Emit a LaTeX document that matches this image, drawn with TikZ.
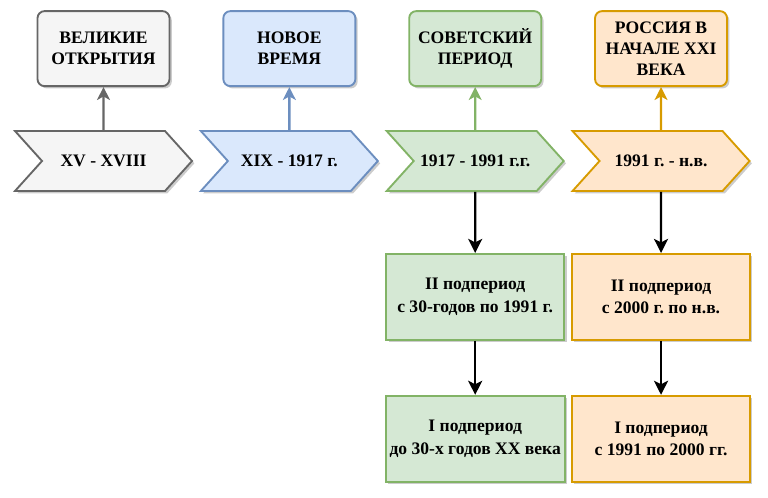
\documentclass[tikz,border=0pt]{standalone}
\usepackage{fontspec}
\setmainfont{Liberation Serif}
\usetikzlibrary{shapes.symbols,arrows.meta,positioning,shadows}
\definecolor{greyfill}{HTML}{F5F5F5}
\definecolor{greyline}{HTML}{666666}
\definecolor{bluefill}{HTML}{DAE8FC}
\definecolor{blueline}{HTML}{6C8EBF}
\definecolor{greenfill}{HTML}{D5E8D4}
\definecolor{greenline}{HTML}{82B366}
\definecolor{orangefill}{HTML}{FFE6CC}
\definecolor{orangeline}{HTML}{D79B00}
\frenchspacing
\tikzset{
	chev/.style   = {signal,signal from=west,signal to=east,
		signal pointer angle=96,line width=1.6pt,
		minimum width=5.31cm,minimum height=1.8cm,align=center,
		font=\fontsize{15}{18}\selectfont\bfseries,
		drop shadow={shadow xshift=2pt,shadow yshift=-2pt,opacity=.4}},
	head/.style   = {rectangle,rounded corners=6pt,line width=1.6pt,
		minimum width=3.96cm,minimum height=2.25cm,align=center,
		font=\fontsize{15}{18}\selectfont\bfseries,
		drop shadow={shadow xshift=2pt,shadow yshift=-2pt,opacity=.4}},
	sub/.style    = {rectangle,line width=1.6pt,
		minimum width=5.34cm,minimum height=2.58cm,align=center,
		font=\fontsize{15}{19}\selectfont\bfseries,
		drop shadow={shadow xshift=2pt,shadow yshift=-2pt,opacity=.4}},
	uparr/.style  = {-{Stealth[length=11pt,width=11pt,inset=3pt]},line width=2pt},
	downarr/.style= {-{Stealth[length=12pt,width=12pt,inset=3pt]},line width=2pt,black},
}
\begin{document}
\begin{tikzpicture}[node distance=1.29cm and 1.0cm]
	\useasboundingbox (0,0) rectangle (23.04,-14.91);
	
	\node (c1) [chev,draw=greyline,fill=greyfill] at (3.105,-4.83) {XV - XVIII};
	\node (c2) [chev,draw=blueline,fill=bluefill,right=of c1] {XIX - 1917 г.};
	\node (c3) [chev,draw=greenline,fill=greenfill,right=of c2] {1917 - 1991 г.г.};
	\node (c4) [chev,draw=orangeline,fill=orangefill,right=of c3] {1991 г. - н.в.};
	
	\node (t1) [head,draw=greyline,fill=greyfill,above=of c1] {ВЕЛИКИЕ\\ОТКРЫТИЯ};
	\node (t2) [head,draw=blueline,fill=bluefill,above=of c2] {НОВОЕ\\ВРЕМЯ};
	\node (t3) [head,draw=greenline,fill=greenfill,above=of c3] {СОВЕТСКИЙ\\ПЕРИОД};
	\node (t4) [head,draw=orangeline,fill=orangefill,above=of c4]
	{РОССИЯ В\\НАЧАЛЕ XXI\\ВЕКА};
	
	\node (g2) [sub,draw=greenline,fill=greenfill,below=1.83cm of c3]
	{II подпериод\\с 30-годов по 1991 г.};
	\node (g1) [sub,draw=greenline,fill=greenfill,below=1.62cm of g2]
	{I подпериод\\до 30-х годов XX века};
	\node (o2) [sub,draw=orangeline,fill=orangefill,below=1.83cm of c4]
	{II подпериод\\с 2000 г. по н.в.};
	\node (o1) [sub,draw=orangeline,fill=orangefill,below=1.62cm of o2]
	{I подпериод\\с 1991 по 2000 гг.};
	
	\draw[uparr,greyline](c1)--(t1);
	\draw[uparr,blueline](c2)--(t2);
	\draw[uparr,greenline](c3)--(t3);
	\draw[uparr,orangeline](c4)--(t4);
	
	\draw[downarr](c3)--(g2);
	\draw[downarr](g2)--(g1);
	\draw[downarr](c4)--(o2);
	\draw[downarr](o2)--(o1);
\end{tikzpicture}
\end{document}
